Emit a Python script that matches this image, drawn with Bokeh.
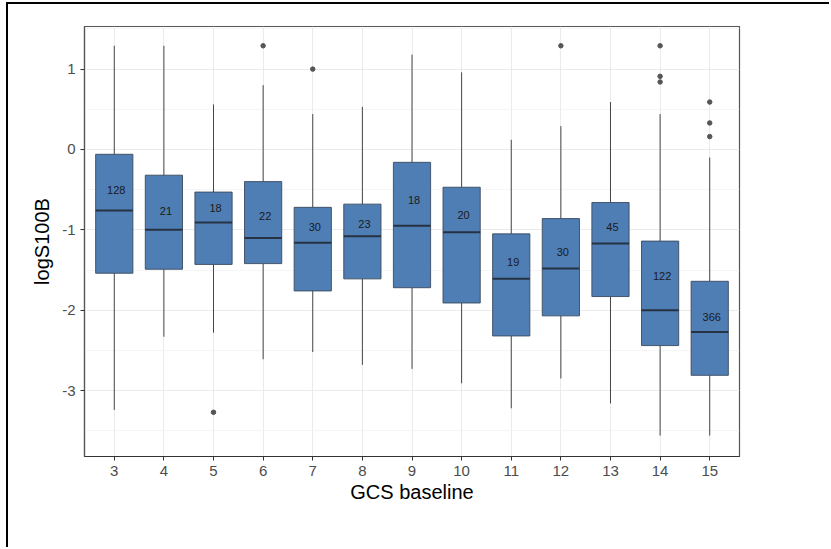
from bokeh.plotting import figure
from bokeh.models import Range1d, FixedTicker, ColumnDataSource, PrintfTickFormatter
from bokeh.core.properties import value
from bokeh.embed import file_html
from bokeh.resources import INLINE

# Baseline GCS categories and the five-number summaries of logS100B
gcs = [3, 4, 5, 6, 7, 8, 9, 10, 11, 12, 13, 14, 15]
upper_whisker = [1.29, 1.29, 0.56, 0.80, 0.44, 0.53, 1.18, 0.96, 0.12, 0.29, 0.59, 0.44, -0.10]
q3 = [-0.06, -0.32, -0.53, -0.40, -0.72, -0.68, -0.16, -0.47, -1.05, -0.86, -0.66, -1.14, -1.64]
median = [-0.76, -1.00, -0.91, -1.10, -1.16, -1.08, -0.95, -1.03, -1.61, -1.48, -1.17, -2.00, -2.27]
q1 = [-1.54, -1.49, -1.43, -1.42, -1.76, -1.61, -1.72, -1.91, -2.32, -2.07, -1.83, -2.44, -2.81]
lower_whisker = [-3.24, -2.33, -2.28, -2.61, -2.52, -2.68, -2.73, -2.91, -3.22, -2.85, -3.16, -3.56, -3.56]

# Group sizes and the height at which each count is printed
n_patients = [128, 21, 18, 22, 30, 23, 18, 20, 19, 30, 45, 122, 366]
count_y = [-0.51, -0.76, -0.73, -0.83, -0.97, -0.93, -0.63, -0.81, -1.40, -1.27, -0.96, -1.58, -2.08]

# Outlying observations
outlier_gcs = [5, 6, 7, 12, 14, 14, 14, 15, 15, 15]
outlier_val = [-3.27, 1.29, 1.00, 1.29, 1.29, 0.91, 0.84, 0.59, 0.33, 0.16]

y_major = [-3, -2, -1, 0, 1]
y_minor = [-3.5, -2.5, -1.5, -0.5, 0.5, 1.5]

FONT = "Liberation Sans"
BOX_W = 0.75

src = ColumnDataSource(dict(
    x=gcs, lo=lower_whisker, q1=q1, med=median, q3=q3, hi=upper_whisker,
    x0=[g - BOX_W / 2 for g in gcs], x1=[g + BOX_W / 2 for g in gcs],
    lab=[str(v) for v in n_patients], ly=count_y,
))

p = figure(
    width=823, height=545,
    output_backend="svg", toolbar_location=None,
    x_range=Range1d(2.4, 15.6), y_range=Range1d(-3.82, 1.53),
    min_border_left=76, min_border_right=92,
    min_border_top=22, min_border_bottom=93,
    background_fill_color="white", border_fill_color="white",
)
p.styles = {
    "margin-left": "6px", "margin-top": "2px",
    "border-left": "2px solid black", "border-top": "2px solid black",
}
p.outline_line_color = "#555555"
p.outline_line_width = 1.2

# grid
p.xgrid.ticker = FixedTicker(ticks=gcs)
p.ygrid.ticker = FixedTicker(ticks=y_major, minor_ticks=y_minor)
p.xgrid.grid_line_color = "#ebebeb"
p.ygrid.grid_line_color = "#ebebeb"
p.xgrid.grid_line_width = 1.1
p.ygrid.grid_line_width = 1.1
p.ygrid.minor_grid_line_color = "#f3f3f3"
p.ygrid.minor_grid_line_width = 0.8

# axes
p.xaxis.ticker = FixedTicker(ticks=gcs)
p.yaxis.ticker = FixedTicker(ticks=y_major, minor_ticks=[])
p.yaxis.formatter = PrintfTickFormatter(format="%d")
for ax in (p.xaxis[0], p.yaxis[0]):
    ax.axis_line_color = "#333333"
    ax.axis_line_width = 1.2
    ax.major_tick_line_color = "#333333"
    ax.major_tick_out = 4
    ax.major_tick_in = 0
    ax.minor_tick_line_color = None
    ax.major_label_text_font = FONT
    ax.major_label_text_font_size = "15px"
    ax.major_label_text_color = "#4d4d4d"
    ax.axis_label_text_font = FONT
    ax.axis_label_text_font_size = "20px"
    ax.axis_label_text_font_style = "normal"
    ax.axis_label_text_color = "black"
p.yaxis.axis_line_color = "#555555"
p.xaxis.major_label_standoff = 5
p.yaxis.major_label_standoff = 5
p.xaxis.axis_label_standoff = 2
p.yaxis.axis_label_standoff = 6
p.xaxis.axis_label = "GCS baseline"
p.yaxis.axis_label = "logS100B"

# whiskers
p.segment(x0="x", y0="q3", x1="x", y1="hi", source=src, line_color="#333333", line_width=0.9)
p.segment(x0="x", y0="q1", x1="x", y1="lo", source=src, line_color="#333333", line_width=0.9)

# boxes
p.vbar(x="x", width=BOX_W, top="q3", bottom="q1", source=src,
       fill_color="#4879b2", fill_alpha=0.96, line_color="#3a4a5e", line_width=0.9)

# medians
p.segment(x0="x0", y0="med", x1="x1", y1="med", source=src, line_color="#263242", line_width=2.0)

# outliers
p.scatter(outlier_gcs, outlier_val, size=4.5, fill_color="#555555", line_color="#555555")

# group sizes
p.text(x="x", y="ly", text="lab", source=src, x_offset=2,
       text_font=value(FONT), text_font_size="11px", text_color="#1a1a1a",
       text_align="center", text_baseline="middle")

open("out.html", "w").write(file_html(p, INLINE))
